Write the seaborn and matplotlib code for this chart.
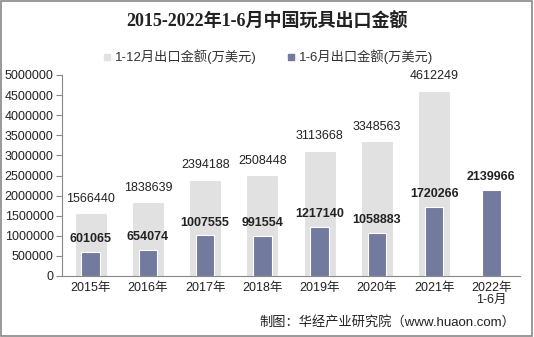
import matplotlib
matplotlib.use("Agg")
import matplotlib.pyplot as plt
import seaborn as sns
import pandas as pd
import numpy as np
from matplotlib.patches import Rectangle
from matplotlib.lines import Line2D

sns.set_style("white")
plt.rcParams['font.family'] = ['Liberation Sans', 'Noto Sans CJK SC', 'DejaVu Sans']

categories = ["2015年", "2016年", "2017年", "2018年", "2019年", "2020年", "2021年", "2022年\n1-6月"]
full_year = [1566440, 1838639, 2394188, 2508448, 3113668, 3348563, 4612249, np.nan]
half_year = [601065, 654074, 1007555, 991554, 1217140, 1058883, 1720266, 2139966]
series_full = "1-12月出口金额(万美元)"
series_half = "1-6月出口金额(万美元)"
title = "2015-2022年1-6月中国玩具出口金额"
source = "制图：华经产业研究院（www.huaon.com）"

gray = "#E0E1E0"
dark = "#727A9E"

df = pd.DataFrame({"cat": categories, "full": full_year, "half": half_year})

fig = plt.figure(figsize=(5.34, 3.37), dpi=100)
ax = fig.add_axes([62/534, 1-276/337, (520-62)/534, (276-75)/337])

sns.barplot(data=df, x="cat", y="full", color=gray, width=0.56, ax=ax,
            saturation=1, edgecolor="white", linewidth=0.8, zorder=2)
sns.barplot(data=df, x="cat", y="half", color=dark, width=0.32, ax=ax,
            saturation=1, edgecolor="white", linewidth=0.8, zorder=3)

ax.set_ylim(0, 5000000)
ax.set_xlim(-0.5, len(categories) - 0.5)
ax.set_yticks(np.arange(0, 5000001, 500000))
ax.set_yticklabels([str(v) for v in range(0, 5000001, 500000)], fontsize=9, color="#222222")
ax.set_xticks(range(len(categories)))
ax.set_xticklabels(categories, fontsize=9, color="#222222", linespacing=1.0)
ax.set_xticks(np.arange(-0.5, len(categories), 1), minor=True)
ax.tick_params(axis="x", which="major", length=0, pad=4)
ax.tick_params(axis="x", which="minor", length=4, color="#888888", direction="out")
ax.tick_params(axis="y", length=4, color="#888888", direction="out", left=True, pad=2)
ax.set_xlabel("")
ax.set_ylabel("")
for s in ["top", "right"]:
    ax.spines[s].set_visible(False)
for s in ["left", "bottom"]:
    ax.spines[s].set_color("#888888")
    ax.spines[s].set_linewidth(0.8)

for i, v in enumerate(full_year):
    if not np.isnan(v):
        ax.annotate(f"{int(v)}", (i, v), xytext=(0, 6), textcoords="offset points",
                    ha="center", va="bottom", fontsize=9, color="#222222")
for i, v in enumerate(half_year):
    ax.annotate(f"{int(v)}", (i, v), xytext=(0, 5), textcoords="offset points",
                ha="center", va="bottom", fontsize=9, fontweight="bold", color="#222222")

fig.text(0.5, 1-22/337, title, ha="center", va="center", fontsize=13, fontweight="bold",
         color="#222222", family=['Liberation Serif', 'Noto Sans CJK SC'])

handles = [Line2D([], [], marker="s", linestyle="", markersize=5, color=gray),
           Line2D([], [], marker="s", linestyle="", markersize=5, color=dark)]
fig.legend(handles, [series_full, series_half], loc="center", bbox_to_anchor=(0.5, 1-57/337),
           ncol=2, frameon=False, fontsize=9.5, handletextpad=0.2, columnspacing=2.2,
           handlelength=0.8, labelcolor="#333333")

fig.text(515/534, 1-322/337, source, ha="right", va="center", fontsize=9.5, color="#222222")

fig.patches.append(Rectangle((0.002, 0.003), 0.995, 0.994, transform=fig.transFigure,
                             fill=False, edgecolor="#888888", linewidth=1.2))

fig.savefig("out.png", dpi=100)
